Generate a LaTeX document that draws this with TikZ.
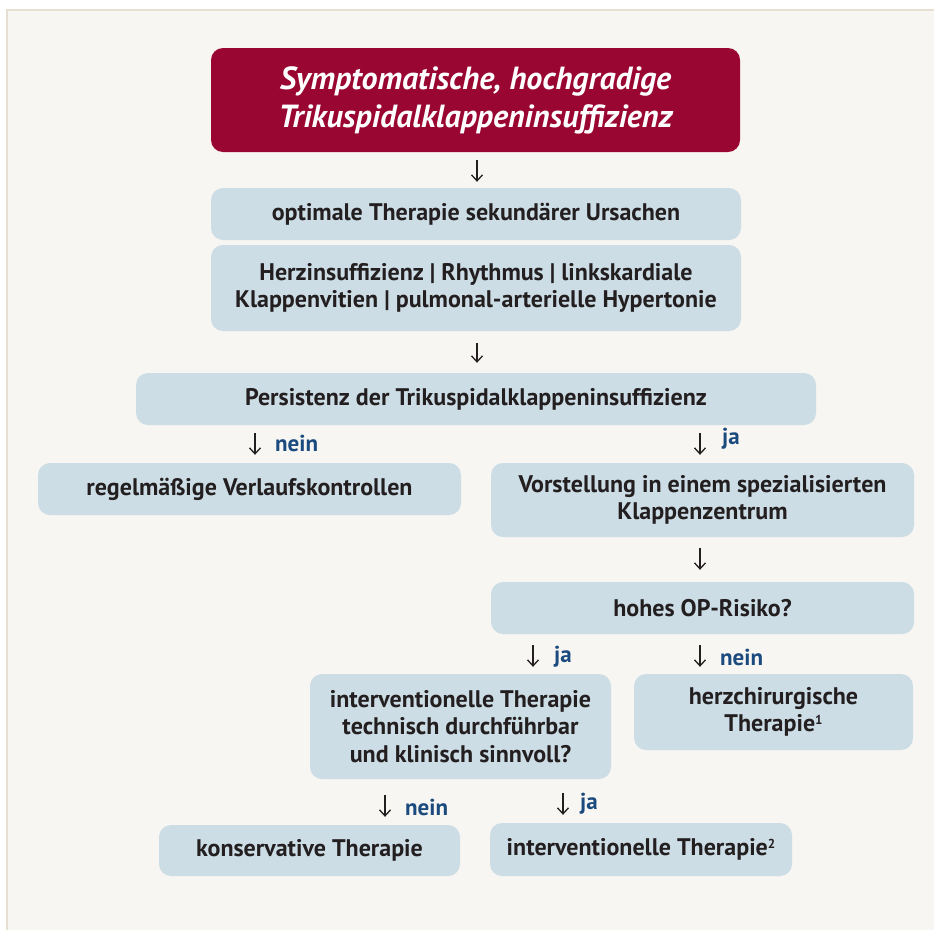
\documentclass[tikz,border=0pt]{standalone}
\usepackage{fontspec}
\setmainfont{PT Sans}
\usetikzlibrary{arrows.meta}
\definecolor{cream}{HTML}{F7F6F2}
\definecolor{rim}{HTML}{E6DFD2}
\definecolor{wine}{HTML}{9A0632}
\definecolor{pale}{HTML}{CDDDE5}
\definecolor{ink}{HTML}{231F20}
\definecolor{navy}{HTML}{1B4A7E}
\newcommand{\fnmark}[1]{\raisebox{7pt}{\fontsize{13}{13}\selectfont #1}}
\begin{document}
\begin{tikzpicture}[x=1pt,y=-1pt,
  box/.style={fill=pale, rounded corners=12pt, text=ink, align=center,
    font=\fontsize{24}{27.5}\selectfont\bfseries, inner sep=0pt},
  titlebox/.style={fill=wine, rounded corners=12pt, text=white, align=center,
    font=\fontsize{32}{38}\selectfont\bfseries\itshape, inner sep=0pt},
  arr/.style={draw=ink, line width=1.3pt, -{Straight Barb[length=6pt,width=11pt,line width=1.3pt]}},
  lab/.style={anchor=west, text=navy, font=\fontsize{23}{26}\selectfont\bfseries, inner sep=0pt}
]
\useasboundingbox (0,0) rectangle (934,930);
\fill[white] (0,0) rectangle (934,930);
\fill[cream] (7,10) rectangle (934,930);
\draw[rim, line width=1.2pt] (7,930) -- (7,10) -- (934,10);

\node[titlebox, minimum width=529pt, minimum height=104pt] (t) at (475.5,100)
  {Symptomatische, hochgradige\\Trikuspidalklappeninsuffizienz};
\node[box, minimum width=530pt, minimum height=52pt] (b2) at (476,214)
  {optimale Therapie sekundärer Ursachen};
\node[box, minimum width=530pt, minimum height=86pt] (b3) at (476,288)
  {Herzinsuffizienz | Rhythmus | linkskardiale\\Klappenvitien | pulmonal-arterielle Hypertonie};
\node[box, minimum width=680pt, minimum height=52pt] (b4) at (476,399)
  {Persistenz der Trikuspidalklappeninsuffizienz};
\node[box, minimum width=423pt, minimum height=52pt] (b5) at (249.5,489)
  {regelmäßige Verlaufskontrollen};
\node[box, minimum width=423pt, minimum height=74pt] (b6) at (702.5,500)
  {Vorstellung in einem spezialisierten\\Klappenzentrum};
\node[box, minimum width=423pt, minimum height=52pt] (b7) at (702.5,608)
  {hohes OP-Risiko?};
\node[box, minimum width=301pt, minimum height=105pt] (b8) at (460.5,726.5)
  {interventionelle Therapie\\technisch durchführbar\\und klinisch sinnvoll?};
\node[box, minimum width=279pt, minimum height=76pt] (b9) at (773.5,712)
  {herzchirurgische\\Therapie\fnmark{1}};
\node[box, minimum width=301pt, minimum height=51pt] (b10) at (309.5,850.5)
  {konservative Therapie};
\node[box, minimum width=302pt, minimum height=53pt] (b11) at (641,849.5)
  {interventionelle Therapie\fnmark{2}};

\draw[arr, shorten <=8pt, shorten >=6pt] (t.south -| 477,0) -- (b2.north -| 477,0);
\draw[arr, shorten <=12pt, shorten >=10pt] (b3.south -| 477,0) -- (b4.north -| 477,0);
\draw[arr, shorten <=8pt, shorten >=8pt] (b4.south -| 255,0) -- (b5.north -| 255,0);
\draw[arr, shorten <=8pt, shorten >=8pt] (b4.south -| 700,0) -- (b6.north -| 700,0);
\draw[arr, shorten <=11pt, shorten >=12pt] (b6.south -| 700,0) -- (b7.north -| 700,0);
\draw[arr, shorten <=11pt, shorten >=7pt] (b7.south -| 533,0) -- (b8.north -| 533,0);
\draw[arr, shorten <=11pt, shorten >=7pt] (b7.south -| 700,0) -- (b9.north -| 700,0);
\draw[arr, shorten <=16pt, shorten >=8pt] (b8.south -| 385,0) -- (b10.north -| 385,0);
\draw[arr, shorten <=14pt, shorten >=8pt] (b8.south -| 563,0) -- (b11.north -| 563,0);

\node[lab] (l1) at (275,443) {nein};
\node[lab] (l2) at (722,439) {ja};
\node[lab] (l3) at (554,657) {ja};
\node[lab] (l4) at (720,657) {nein};
\node[lab] (l5) at (405,807) {nein};
\node[lab] (l6) at (580,804) {ja};
\end{tikzpicture}
\end{document}
